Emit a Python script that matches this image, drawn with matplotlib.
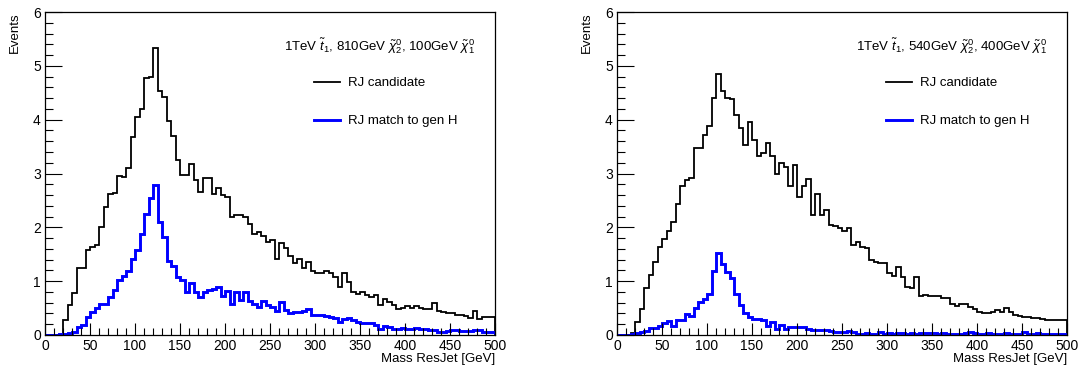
import matplotlib
matplotlib.use("Agg")
import matplotlib.pyplot as plt
import numpy as np
from matplotlib.ticker import MultipleLocator

plt.rcParams["font.family"] = ["Liberation Sans", "DejaVu Sans"]
plt.rcParams["mathtext.fontset"] = "custom"
plt.rcParams["mathtext.rm"] = "Liberation Sans"
plt.rcParams["mathtext.it"] = "Liberation Sans:italic"

# 100 bins of 5 GeV between 0 and 500
edges = np.arange(0, 505, 5)

cand_810 = [
    0, 0, 0, 0, 0.28, 0.55, 0.78, 1.24, 1.24, 1.58,
    1.64, 1.67, 2.00, 2.38, 2.62, 2.64, 2.95, 2.93, 3.10, 3.67,
    4.05, 4.19, 4.78, 4.80, 5.33, 4.53, 4.42, 3.97, 3.70, 3.26,
    2.97, 2.98, 3.17, 2.88, 2.65, 2.92, 2.92, 2.62, 2.73, 2.60,
    2.56, 2.19, 2.22, 2.23, 2.19, 2.06, 1.88, 1.92, 1.84, 1.72,
    1.77, 1.41, 1.70, 1.61, 1.46, 1.33, 1.42, 1.24, 1.36, 1.18,
    1.16, 1.16, 1.19, 1.15, 1.08, 0.90, 1.15, 0.99, 0.80, 0.77,
    0.79, 0.74, 0.71, 0.74, 0.56, 0.66, 0.62, 0.56, 0.48, 0.50,
    0.53, 0.51, 0.53, 0.50, 0.48, 0.48, 0.60, 0.44, 0.43, 0.41,
    0.41, 0.37, 0.37, 0.36, 0.32, 0.44, 0.29, 0.33, 0.33, 0.34,
]
match_810 = [
    0, 0, 0, 0.01, 0.01, 0.03, 0.06, 0.15, 0.18, 0.33,
    0.42, 0.50, 0.57, 0.58, 0.71, 0.84, 1.02, 1.09, 1.19, 1.42,
    1.57, 1.87, 2.24, 2.55, 2.78, 2.10, 1.82, 1.38, 1.29, 1.07,
    1.02, 0.79, 0.97, 0.79, 0.70, 0.80, 0.83, 0.86, 0.89, 0.73,
    0.82, 0.57, 0.80, 0.65, 0.79, 0.64, 0.57, 0.52, 0.63, 0.56,
    0.52, 0.44, 0.62, 0.46, 0.40, 0.43, 0.43, 0.45, 0.48, 0.37,
    0.37, 0.38, 0.36, 0.33, 0.31, 0.25, 0.29, 0.31, 0.28, 0.25,
    0.23, 0.22, 0.22, 0.19, 0.12, 0.17, 0.14, 0.12, 0.12, 0.13,
    0.12, 0.12, 0.13, 0.12, 0.11, 0.09, 0.09, 0.06, 0.06, 0.07,
    0.10, 0.09, 0.08, 0.08, 0.07, 0.10, 0.09, 0.06, 0.06, 0.05,
]
cand_540 = [
    0, 0, 0, 0.03, 0.24, 0.48, 0.88, 1.11, 1.36, 1.64,
    1.79, 1.93, 2.09, 2.44, 2.77, 2.87, 2.91, 3.48, 3.48, 3.72,
    3.89, 4.40, 4.85, 4.53, 4.40, 4.38, 4.08, 3.85, 3.53, 3.95,
    3.63, 3.32, 3.38, 3.56, 3.32, 2.99, 3.19, 3.13, 2.77, 3.16,
    2.57, 2.76, 2.89, 2.23, 2.61, 2.23, 2.32, 2.04, 2.02, 1.99,
    1.93, 1.99, 1.67, 1.73, 1.64, 1.61, 1.39, 1.36, 1.34, 1.33,
    1.15, 1.10, 1.26, 1.08, 0.90, 0.87, 1.07, 0.72, 0.74, 0.73,
    0.72, 0.72, 0.68, 0.68, 0.58, 0.53, 0.58, 0.58, 0.52, 0.49,
    0.43, 0.41, 0.41, 0.43, 0.46, 0.43, 0.50, 0.42, 0.37, 0.36,
    0.34, 0.34, 0.31, 0.32, 0.30, 0.28, 0.28, 0.27, 0.27, 0.28,
]
match_540 = [
    0, 0, 0, 0.01, 0.04, 0.06, 0.08, 0.13, 0.13, 0.17,
    0.22, 0.26, 0.16, 0.28, 0.28, 0.39, 0.36, 0.50, 0.61, 0.67,
    0.76, 1.19, 1.53, 1.31, 1.17, 1.06, 0.76, 0.56, 0.40, 0.34,
    0.30, 0.29, 0.28, 0.17, 0.25, 0.12, 0.19, 0.12, 0.15, 0.15,
    0.14, 0.15, 0.12, 0.10, 0.10, 0.09, 0.10, 0.08, 0.06, 0.06,
    0.06, 0.07, 0.06, 0.02, 0.02, 0.03, 0.02, 0.02, 0.05, 0.02,
    0.03, 0.02, 0.04, 0.03, 0.01, 0.03, 0.02, 0.03, 0.04, 0.03,
    0.04, 0.02, 0.03, 0.02, 0.02, 0.01, 0.02, 0.03, 0.05, 0.04,
    0.02, 0.02, 0.03, 0.02, 0.02, 0.02, 0.03, 0.02, 0.01, 0.02,
    0.05, 0.02, 0.02, 0.03, 0.02, 0.02, 0.02, 0.01, 0.02, 0.02,
]

panels = [
    (r"1TeV $\tilde{t}_{1}$, 810GeV $\tilde{\chi}^{0}_{2}$, 100GeV $\tilde{\chi}^{0}_{1}$",
     cand_810, match_810),
    (r"1TeV $\tilde{t}_{1}$, 540GeV $\tilde{\chi}^{0}_{2}$, 400GeV $\tilde{\chi}^{0}_{1}$",
     cand_540, match_540),
]

W, H = 1078, 367
fig = plt.figure(figsize=(W / 100, H / 100), dpi=100)
lefts = [45, 617]

for left, (title, cand, match) in zip(lefts, panels):
    ax = fig.add_axes([left / W, 32 / H, 450 / W, 323 / H])
    ax.stairs(cand, edges, color="black", lw=1.3, label="RJ candidate")
    ax.stairs(match, edges, color="#0000ff", lw=2.1, label="RJ match to gen H")
    ax.set_xlim(0, 500)
    ax.set_ylim(0, 6)

    ax.xaxis.set_major_locator(MultipleLocator(50))
    ax.xaxis.set_minor_locator(MultipleLocator(10))
    ax.yaxis.set_major_locator(MultipleLocator(1))
    ax.yaxis.set_minor_locator(MultipleLocator(0.2))
    ax.tick_params(which="both", direction="in", top=False, right=False,
                   labelsize=10, width=0.8)
    ax.tick_params(axis="x", which="major", length=9, pad=3)
    ax.tick_params(axis="x", which="minor", length=5)
    ax.tick_params(axis="y", which="major", length=12, pad=3)
    ax.tick_params(axis="y", which="minor", length=6)
    for s in ax.spines.values():
        s.set_linewidth(0.9)

    ax.set_xlabel("Mass ResJet [GeV]", fontsize=9.5, loc="right", labelpad=0)
    ax.set_ylabel("Events", fontsize=9.5, loc="top", labelpad=9)

    ax.text(0.955, 0.895, title, transform=ax.transAxes, ha="right",
            va="center", fontsize=9.5)
    ax.legend(loc="upper left", bbox_to_anchor=(0.585, 0.815), frameon=False,
              fontsize=9.5, handlelength=2.0, handletextpad=0.6,
              labelspacing=1.95, borderaxespad=0)

fig.savefig("out.png", dpi=100)
